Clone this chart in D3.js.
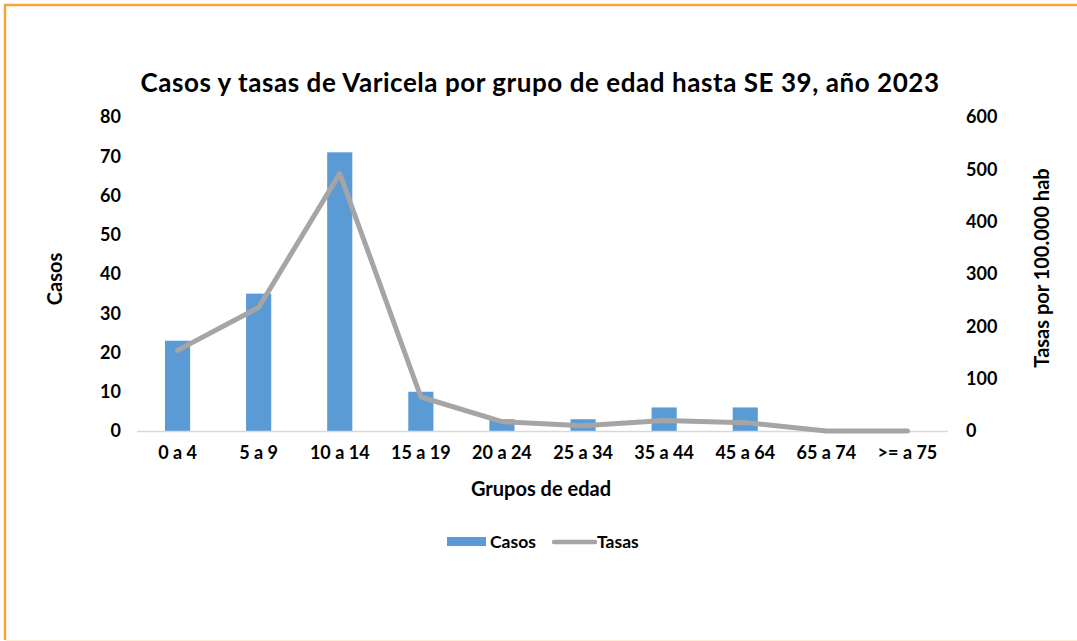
<!DOCTYPE html>
<html>
<head>
<meta charset="utf-8">
<script src="https://cdn.jsdelivr.net/npm/d3@7"></script>
<style>
  html, body { margin: 0; padding: 0; background: #fff; }
  svg { display: block; font-family: Lato, "Open Sans", sans-serif; }
</style>
</head>
<body>
<svg id="chart" width="1077" height="641"></svg>
<script>
// Age groups and series
const categories = ["0 a 4", "5 a 9", "10 a 14", "15 a 19", "20 a 24", "25 a 34", "35 a 44", "45 a 64", "65 a 74", ">= a 75"];
const casos = [23, 35, 71, 10, 3, 3, 6, 6, 0, 0];
const tasas = [154, 236, 492, 65, 18, 10, 20, 16, 0, 0];
const casosTicks = [0, 10, 20, 30, 40, 50, 60, 70, 80];
const tasasTicks = [0, 100, 200, 300, 400, 500, 600];

const svg = d3.select("#chart");
const W = 1077, H = 641;

// frame
svg.append("line").attr("x1", 5).attr("x2", 5).attr("y1", 4).attr("y2", 640)
  .attr("stroke", "#F8A535").attr("stroke-width", 2.5);
svg.append("line").attr("x1", 4).attr("x2", W).attr("y1", 5).attr("y2", 5)
  .attr("stroke", "#F8A535").attr("stroke-width", 2.5);
svg.append("line").attr("x1", 6).attr("x2", W).attr("y1", 640.5).attr("y2", 640.5)
  .attr("stroke", "#FDEBD2").attr("stroke-width", 1);

const plot = { left: 137, right: 948, top: 117, bottom: 431 };
const tickFont = 18;

const x = d3.scaleBand().domain(categories).range([plot.left, plot.right]).paddingInner(0.69).paddingOuter(0.345);
const xc = d3.scaleBand().domain(categories).range([plot.left, plot.right]);
const yL = d3.scaleLinear().domain([0, 80]).range([plot.bottom, plot.top]);
const yR = d3.scaleLinear().domain([0, 600]).range([plot.bottom, plot.top]);

// bars
svg.append("g").selectAll("rect").data(casos).join("rect")
  .attr("x", (d, i) => x(categories[i]))
  .attr("width", x.bandwidth())
  .attr("y", d => yL(d))
  .attr("height", d => yL(0) - yL(d))
  .attr("fill", "#5B9BD5");

// baseline
svg.append("line").attr("x1", plot.left).attr("x2", plot.right)
  .attr("y1", plot.bottom + 0.5).attr("y2", plot.bottom + 0.5)
  .attr("stroke", "#D9D9D9").attr("stroke-width", 1.5);

// rate line
const line = d3.line()
  .x((d, i) => xc(categories[i]) + xc.bandwidth() / 2)
  .y(d => yR(d));
svg.append("path").datum(tasas)
  .attr("d", line)
  .attr("fill", "none")
  .attr("stroke", "#A5A5A5")
  .attr("stroke-width", 5)
  .attr("stroke-linejoin", "round")
  .attr("stroke-linecap", "round");

function styleTicks(g) {
  g.select(".domain").remove();
  g.selectAll("text").attr("font-size", tickFont).attr("font-weight", 700).attr("fill", "#000")
    .attr("font-family", "Lato, sans-serif");
}

// left axis
svg.append("g").attr("transform", `translate(${plot.left},0)`)
  .call(d3.axisLeft(yL).tickValues(casosTicks).tickSize(0).tickPadding(16))
  .call(styleTicks);

// right axis
svg.append("g").attr("transform", `translate(${plot.right},0)`)
  .call(d3.axisRight(yR).tickValues(tasasTicks).tickSize(0).tickPadding(18))
  .call(styleTicks);

// category axis
svg.append("g").attr("transform", `translate(0,${plot.bottom})`)
  .call(d3.axisBottom(xc).tickSize(0).tickPadding(15))
  .call(styleTicks);

// title
svg.append("text").attr("x", 540).attr("y", 92).attr("text-anchor", "middle")
  .attr("font-size", 26).attr("font-weight", 700).attr("fill", "#000")
  .attr("letter-spacing", 0.55)
  .text("Casos y tasas de Varicela por grupo de edad hasta SE 39, año 2023");

// axis titles
svg.append("text").attr("x", 541).attr("y", 496).attr("text-anchor", "middle")
  .attr("font-size", 20).attr("font-weight", 700).attr("fill", "#000")
  .text("Grupos de edad");
svg.append("text").attr("transform", "translate(62,279) rotate(-90)").attr("text-anchor", "middle")
  .attr("font-size", 20).attr("font-weight", 700).attr("fill", "#000")
  .text("Casos");
svg.append("text").attr("transform", "translate(1049,268) rotate(-90)").attr("text-anchor", "middle")
  .attr("font-size", 20).attr("font-weight", 700).attr("fill", "#000")
  .text("Tasas por 100.000 hab");

// legend
const lg = svg.append("g");
lg.append("rect").attr("x", 447).attr("y", 537).attr("width", 39).attr("height", 9).attr("fill", "#5B9BD5");
lg.append("text").attr("x", 490).attr("y", 548).attr("font-size", 17.5).attr("font-weight", 700).attr("fill", "#000").text("Casos");
lg.append("line").attr("x1", 554).attr("x2", 595).attr("y1", 542).attr("y2", 542)
  .attr("stroke", "#A5A5A5").attr("stroke-width", 4.5).attr("stroke-linecap", "round");
lg.append("text").attr("x", 597).attr("y", 548).attr("font-size", 17.5).attr("font-weight", 700).attr("fill", "#000").text("Tasas");
</script>
</body>
</html>
